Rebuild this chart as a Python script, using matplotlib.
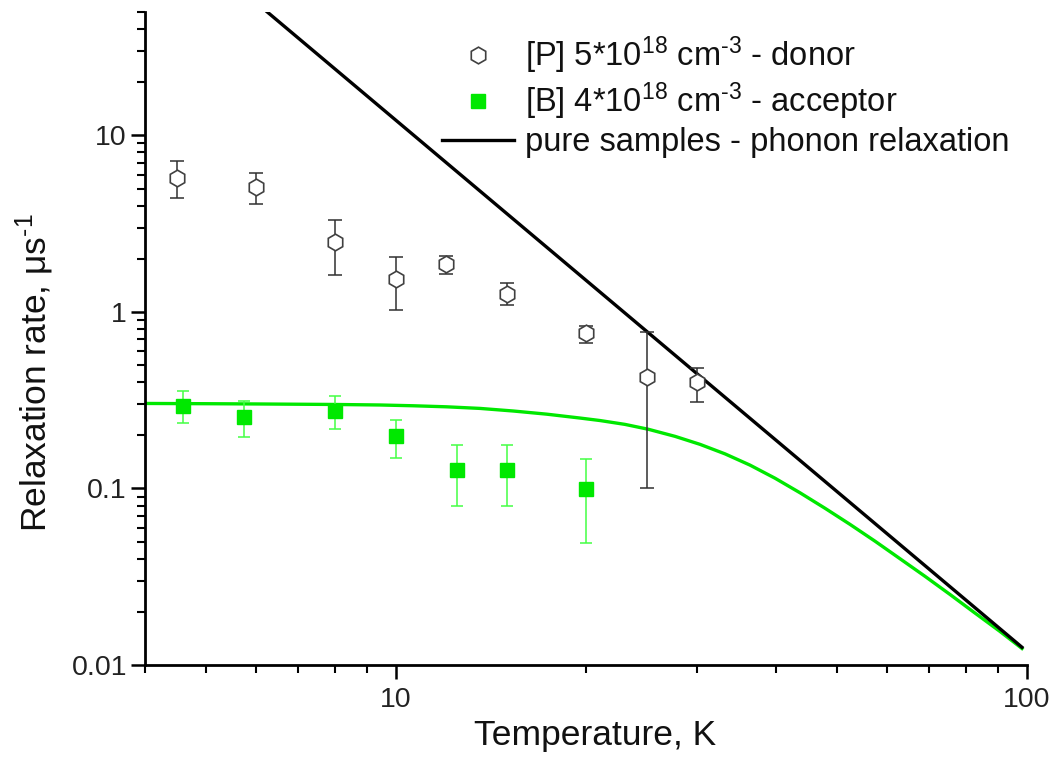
import matplotlib
matplotlib.use("Agg")
import matplotlib.pyplot as plt
from matplotlib.ticker import FuncFormatter, LogLocator, NullFormatter

plt.rcParams['font.family'] = ['Liberation Sans', 'DejaVu Sans']
plt.rcParams['mathtext.fontset'] = 'custom'
plt.rcParams['mathtext.rm'] = 'Liberation Sans'
plt.rcParams['mathtext.it'] = 'Liberation Sans:italic'
plt.rcParams['mathtext.default'] = 'regular'
plt.rcParams['xtick.labelsize'] = 20.5
plt.rcParams['ytick.labelsize'] = 20.5

# ---- data ----
donor_T = [4.5, 6.0, 8.0, 10.0, 12.0, 15.0, 20.0, 25.0, 30.0]
donor_v = [5.75, 5.1, 2.48, 1.53, 1.86, 1.27, 0.755, 0.43, 0.40]
donor_hi = [7.15, 6.1, 3.3, 2.04, 2.07, 1.45, 0.83, 0.77, 0.48]
donor_lo = [4.4, 4.08, 1.61, 1.02, 1.63, 1.09, 0.67, 0.10, 0.31]

acc_T = [4.6, 5.75, 8.0, 10.0, 12.5, 15.0, 20.0]
acc_v = [0.295, 0.255, 0.276, 0.197, 0.128, 0.128, 0.099]
acc_hi = [0.358, 0.314, 0.336, 0.245, 0.177, 0.177, 0.147]
acc_lo = [0.235, 0.196, 0.218, 0.149, 0.080, 0.080, 0.049]

phonon_T = [6.25, 98.2]
phonon_v = [50.0, 0.0126]

fit_T = [4.0, 5.0, 6.0, 8.0, 9.43, 10.65, 12.03, 13.59, 15.35, 17.33, 19.57,
         21.05, 23.06, 25.11, 27.68, 30.33, 33.22, 36.39, 39.87, 43.68, 47.86,
         52.42, 57.42, 62.91, 68.92, 75.5, 82.7, 90.6, 98.2]
fit_v = [0.303, 0.302, 0.301, 0.299, 0.297, 0.294, 0.290, 0.284, 0.2745,
         0.2635, 0.2505, 0.2425, 0.2306, 0.2164, 0.1973, 0.1777, 0.1570,
         0.1356, 0.1143, 0.0945, 0.0772, 0.0626, 0.0503, 0.0400, 0.0318,
         0.0251, 0.0197, 0.0155, 0.0124]

labels = [r'[P] 5*10$^{18}$ cm$^{\text{-}3}$ - donor',
          r'[B] 4*10$^{18}$ cm$^{\text{-}3}$ - acceptor',
          'pure samples - phonon relaxation']

green = '#00e800'
green_err = '#44ff44'
dark = '#303030'

fig = plt.figure(figsize=(10.52, 7.67), dpi=100)
ax = fig.add_axes([0.1378, 0.1330, 0.9762 - 0.1378, 0.9844 - 0.1330])
ax.set_xscale('log')
ax.set_yscale('log')
ax.set_xlim(4, 100)
ax.set_ylim(0.01, 50)

line_ph, = ax.plot(phonon_T, phonon_v, color='black', lw=2.4, zorder=3)
ax.plot(fit_T, fit_v, color=green, lw=2.4, zorder=2)

d_err = [[v - lo for v, lo in zip(donor_v, donor_lo)],
         [hi - v for v, hi in zip(donor_v, donor_hi)]]
ax.errorbar(donor_T, donor_v, yerr=d_err, fmt='none', ecolor=dark,
            elinewidth=1.1, capsize=4.8, capthick=1.1, zorder=4)
pts_d, = ax.plot(donor_T, donor_v, 'h', ms=12, mfc='white', mec='#404040',
                 mew=1.2, ls='none', zorder=5)

a_err = [[v - lo for v, lo in zip(acc_v, acc_lo)],
         [hi - v for v, hi in zip(acc_v, acc_hi)]]
ax.errorbar(acc_T, acc_v, yerr=a_err, fmt='none', ecolor=green_err,
            elinewidth=1.1, capsize=4.5, capthick=1.1, zorder=4)
pts_a, = ax.plot(acc_T, acc_v, 's', ms=9.5, mfc=green, mec=green,
                 ls='none', zorder=5)

for s in ['top', 'right']:
    ax.spines[s].set_visible(False)
for s in ['left', 'bottom']:
    ax.spines[s].set_linewidth(2.0)

ax.xaxis.set_major_locator(LogLocator(base=10, numticks=10))
ax.yaxis.set_major_locator(LogLocator(base=10, numticks=10))
ax.xaxis.set_minor_locator(LogLocator(base=10, subs=range(2, 10), numticks=20))
ax.yaxis.set_minor_locator(LogLocator(base=10, subs=range(2, 10), numticks=20))
fmt = FuncFormatter(lambda v, p: ('%g' % v))
ax.xaxis.set_major_formatter(fmt)
ax.yaxis.set_major_formatter(fmt)
ax.xaxis.set_minor_formatter(NullFormatter())
ax.yaxis.set_minor_formatter(NullFormatter())
ax.tick_params(which='major', direction='out', length=10, width=1.8,
               labelsize=20.5, labelcolor='#222222')
ax.tick_params(which='minor', direction='out', length=5.5, width=1.5)
ax.tick_params(axis='y', which='major', pad=3)
ax.tick_params(axis='x', which='major', pad=6)

ax.set_xlabel('Temperature, K', fontsize=25.5, color='#111111')
ax.set_ylabel(r'Relaxation rate, μs$^{\text{-}1}$', fontsize=25.5,
              color='#111111')
ax.xaxis.set_label_coords(0.51, -0.082)
ax.yaxis.set_label_coords(-0.101, 0.448)

leg = ax.legend([pts_d, pts_a, line_ph], labels, loc='upper left',
                bbox_to_anchor=(0.42, 0.955), bbox_transform=fig.transFigure,
                frameon=False, fontsize=23.5, borderpad=0, borderaxespad=0,
                handlelength=2.2, handletextpad=0.35, labelspacing=0.15,
                numpoints=1)
for t in leg.get_texts():
    t.set_color('#111111')

fig.savefig('out.png', dpi=100)
